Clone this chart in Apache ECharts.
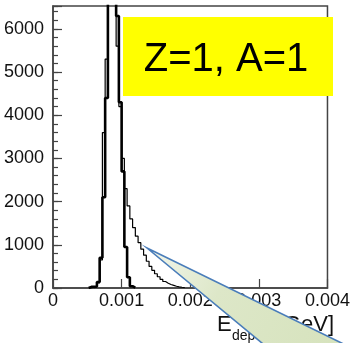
<!DOCTYPE html>
<html>
<head>
<meta charset="utf-8">
<script src="https://cdn.jsdelivr.net/npm/echarts@6/dist/echarts.min.js"></script>
<style>
  html, body { margin: 0; padding: 0; background: #fff; }
  #chart { width: 353px; height: 343px; }
</style>
</head>
<body>
<div id="chart"></div>
<script>
// histogram binning (GeV)
const binWidth = 0.00004;

// narrow peak, drawn with the heavy line
const thickStart = 0.00052;
const thickCounts = [25, 30, 35, 140, 700, 2100, 4400, 7000, 8800, 8000, 6300, 4300, 2700, 950, 250, 40, 10];

// wider peak with the long tail, thin line
const thinStart = 0.0006;
const thinCounts = [30, 120, 650, 3600, 5300, 6900, 7500, 6900, 5600, 4200, 3000, 2300, 1900, 1600,
  1400, 1200, 1050, 900, 760, 620, 500, 410, 330, 260, 200, 150, 110, 80, 60, 40, 28, 18, 10];

const xTicks = [0, 0.001, 0.002, 0.003, 0.004];
const yMax = 6530;
const boxLabel = 'Z=1, A=1';

function histPoints(start, counts) {
  const pts = [[start, 0]];
  counts.forEach((c, i) => pts.push([start + i * binWidth, c]));
  pts.push([start + counts.length * binWidth, 0]);
  return pts;
}

const chart = echarts.init(document.getElementById('chart'), null, { renderer: 'canvas' });
const font = 'Liberation Sans';
const frame = '#444';
const ink = '#111';

chart.setOption({
  animation: false,
  textStyle: { fontFamily: font },
  grid: { left: 53, right: 20, top: 6, bottom: 55, show: true, borderColor: frame, borderWidth: 1.5 },
  xAxis: {
    type: 'value',
    min: xTicks[0],
    max: xTicks[xTicks.length - 1],
    interval: 0.001,
    axisLine: { lineStyle: { color: frame, width: 1.5 } },
    axisTick: { inside: true, length: 9, lineStyle: { color: frame, width: 1.2 } },
    axisLabel: { fontSize: 18, color: ink, margin: 4, showMinLabel: true, showMaxLabel: true, hideOverlap: false },
    splitLine: { show: false }
  },
  yAxis: [
    {
      type: 'value',
      min: 0,
      max: yMax,
      interval: 1000,
      axisLine: { show: true, lineStyle: { color: frame, width: 1.5 } },
      axisTick: { inside: true, length: 9, lineStyle: { color: frame, width: 1.2 } },
      axisLabel: {
        fontSize: 18, color: ink, margin: 9,
        formatter: v => (v % 1000 === 0 ? String(v) : '')
      },
      splitLine: { show: false }
    },
    {
      type: 'value',
      position: 'left',
      min: 0,
      max: yMax,
      interval: 200,
      axisLine: { show: false },
      axisTick: { inside: true, length: 5, lineStyle: { color: frame, width: 1.2 } },
      axisLabel: { show: false },
      splitLine: { show: false }
    }
  ],
  series: [
    {
      type: 'line',
      step: 'end',
      showSymbol: false,
      data: histPoints(thinStart, thinCounts),
      lineStyle: { color: '#000', width: 1.2 },
      z: 3
    },
    {
      type: 'line',
      step: 'end',
      showSymbol: false,
      data: histPoints(thickStart, thickCounts),
      lineStyle: { color: '#000', width: 2.6 },
      z: 4
    }
  ],
  graphic: [
    {
      type: 'rect',
      shape: { x: 123, y: 17, width: 210, height: 79 },
      style: { fill: '#ffff00' },
      z: 10
    },
    {
      type: 'text',
      x: 226, y: 60,
      style: { text: boxLabel, font: '40px "Liberation Sans"', fill: '#000', textAlign: 'center', textVerticalAlign: 'middle' },
      z: 11
    },
    {
      type: 'text',
      x: 217, y: 325,
      style: { text: 'E', font: '22px "Liberation Sans"', fill: ink, textAlign: 'left', textVerticalAlign: 'middle' },
      z: 10
    },
    {
      type: 'text',
      x: 232, y: 336,
      style: { text: 'dep', font: '14px "Liberation Sans"', fill: ink, textAlign: 'left', textVerticalAlign: 'middle' },
      z: 10
    },
    {
      type: 'text',
      x: 334, y: 325,
      style: { text: '[GeV]', font: '22px "Liberation Sans"', fill: ink, textAlign: 'right', textVerticalAlign: 'middle' },
      z: 10
    },
    {
      type: 'polygon',
      shape: { points: [[147, 248], [362, 353], [274, 353]] },
      style: {
        fill: new echarts.graphic.LinearGradient(0, 0, 1, 1, [
          { offset: 0, color: '#f3f6ec' },
          { offset: 0.35, color: '#dde7c8' },
          { offset: 1, color: '#d5e2bb' }
        ]),
        stroke: '#4a7dba',
        lineWidth: 1.6
      },
      z: 20
    }
  ]
});
</script>
</body>
</html>
